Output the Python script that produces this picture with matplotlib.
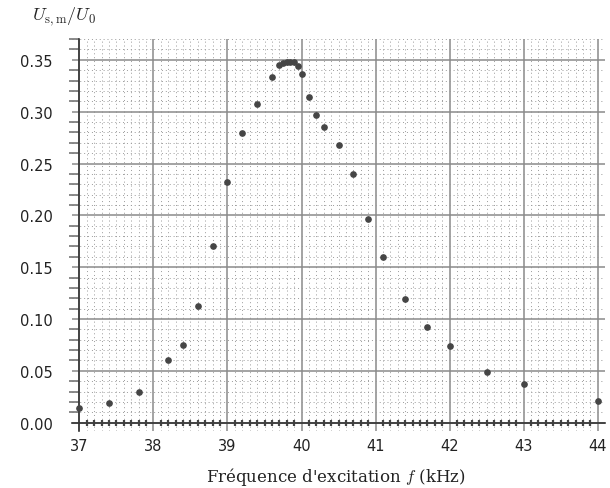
import matplotlib
matplotlib.use("Agg")
import matplotlib.pyplot as plt
import numpy as np

plt.rcParams['mathtext.fontset'] = 'cm'

freq = [37.0, 37.4, 37.8, 38.2, 38.4, 38.6, 38.8, 39.0, 39.2, 39.4, 39.6,
        39.7, 39.75, 39.8, 39.85, 39.9, 39.95, 40.0, 40.1, 40.2, 40.3,
        40.5, 40.7, 40.9, 41.1, 41.4, 41.7, 42.0, 42.5, 43.0, 44.0]
ratio = [0.014, 0.019, 0.030, 0.060, 0.075, 0.113, 0.170, 0.232, 0.279, 0.307, 0.333,
         0.345, 0.347, 0.348, 0.348, 0.348, 0.344, 0.336, 0.314, 0.297, 0.285,
         0.268, 0.240, 0.196, 0.160, 0.119, 0.092, 0.074, 0.049, 0.037, 0.021]
xticks = [37, 38, 39, 40, 41, 42, 43, 44]
yticks = [0.00, 0.05, 0.10, 0.15, 0.20, 0.25, 0.30, 0.35]

fig = plt.figure(figsize=(6.1, 4.89), dpi=100)
ax = fig.add_axes([0.118, 0.1166, 0.874, 0.8014])
ax.set_xlim(36.9, 44.1)
ax.set_ylim(-0.008, 0.370)

# graph paper grid
ax.set_xticks(xticks)
ax.set_yticks(yticks)
ax.set_xticks(np.arange(37, 44.05, 0.1), minor=True)
ax.set_yticks(np.arange(0, 0.3705, 0.01), minor=True)
ax.grid(True, which='major', color='#8a8a8a', linewidth=1.1)
ax.grid(True, which='minor', color='#9a9a9a', linewidth=0.7, linestyle=(0, (1, 3)))
ax.set_axisbelow(True)

for s in ['top', 'right']:
    ax.spines[s].set_visible(False)
ax.spines['left'].set_position(('data', 37))
ax.spines['bottom'].set_position(('data', 0))
ax.spines['left'].set_color('#333333')
ax.spines['bottom'].set_color('#333333')
ax.spines['left'].set_linewidth(1.2)
ax.spines['bottom'].set_linewidth(1.2)

ax.tick_params(axis='x', which='major', length=0, pad=11, labelsize=10.5, colors='#222222')
ax.tick_params(axis='x', which='minor', length=5, width=1.6, direction='inout', colors='#444444')
ax.tick_params(axis='y', which='major', length=0, pad=19, labelsize=10.5, colors='#222222')
ax.tick_params(axis='y', which='minor', length=7, width=1.2, direction='out', colors='#777777')
ax.set_yticklabels([f"{v:.2f}" for v in yticks])
ax.set_xticklabels([str(v) for v in xticks])

ax.plot(freq, ratio, 'o', color='#454545', markersize=3.8, linestyle='none', zorder=5)

fig.text(0.55, 0.025, r"Fréquence d'excitation $f$ (kHz)", ha='center', va='center',
         fontsize=12, family='DejaVu Serif', color='#222222')
fig.text(0.052, 0.965, r"$U_{\mathrm{s,m}}/U_0$", ha='left', va='center',
         fontsize=13, color='#222222')

fig.savefig("out.png", dpi=100)
